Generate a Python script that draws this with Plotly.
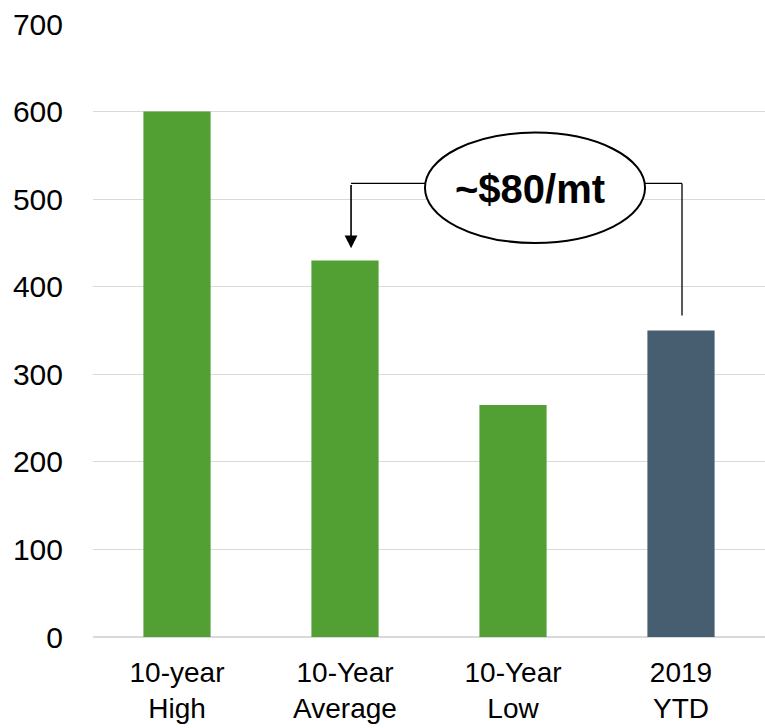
import plotly.graph_objects as go

categories = ["10-year<br>High", "10-Year<br>Average", "10-Year<br>Low", "2019<br>YTD"]
values = [600, 430, 265, 350]
bar_colors = ["#52A033", "#52A033", "#52A033", "#475D70"]
callout_text = "~$80/mt"

fig = go.Figure(go.Bar(
    x=list(range(len(categories))), y=values,
    marker=dict(color=bar_colors, line=dict(width=0)),
    width=0.4,
))

family = "Liberation Sans, Arial, sans-serif"
ytick_font = dict(family=family, size=30, color="#000000")
xtick_font = dict(family=family, size=28, color="#000000")

# bracket from the 2019 bar up to the callout, then down onto the average bar
line_style = dict(color="#000000", width=1.3)
fig.add_shape(type="line", xref="x", yref="y", x0=3.006, x1=3.006, y0=367, y1=518, line=line_style)
fig.add_shape(type="line", xref="x", yref="y", x0=2.78, x1=3.006, y0=518, y1=518, line=line_style)
fig.add_shape(type="line", xref="x", yref="y", x0=1.036, x1=1.48, y0=518, y1=518, line=line_style)
fig.add_annotation(x=1.036, y=444, xref="x", yref="y", ax=1.036, ay=518, axref="x", ayref="y",
                   showarrow=True, arrowhead=2, arrowsize=1.6, arrowwidth=1.6, arrowcolor="#000000", text="")
fig.add_shape(type="circle", xref="x", yref="y", x0=1.476, x1=2.786, y0=450, y1=576,
              line=dict(color="#000000", width=2), fillcolor="#FFFFFF")
fig.add_annotation(x=2.10, y=512, xref="x", yref="y", text="<b>" + callout_text + "</b>",
                   showarrow=False, font=dict(family=family, size=40, color="#000000"))

fig.update_layout(
    width=765, height=728,
    margin=dict(l=93, r=0, t=24, b=91),
    plot_bgcolor="#FFFFFF", paper_bgcolor="#FFFFFF",
    showlegend=False, font=xtick_font,
)
fig.update_xaxes(tickmode="array", tickvals=list(range(len(categories))), ticktext=categories,
                 range=[-0.5, 3.5], showgrid=False, zeroline=False, showline=False,
                 ticks="", ticklabelstandoff=16, tickfont=xtick_font)
fig.update_yaxes(range=[0, 700], dtick=100, showgrid=True, gridcolor="#D9D9D9", gridwidth=1.3,
                 zeroline=True, zerolinecolor="#D9D9D9", zerolinewidth=2, showline=False,
                 ticks="", ticklabelstandoff=29, tickfont=ytick_font)

fig.write_html("out.html")
